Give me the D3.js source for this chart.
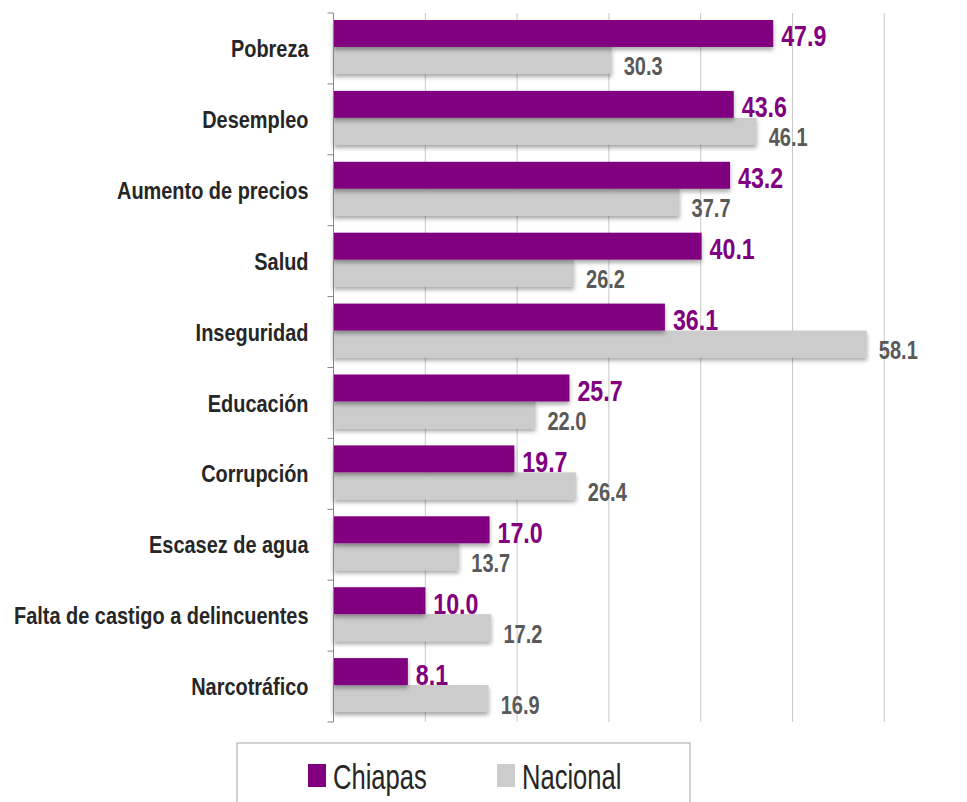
<!DOCTYPE html>
<html>
<head>
<meta charset="utf-8">
<script src="https://cdn.jsdelivr.net/npm/d3@7"></script>
<style>
  body { margin: 0; background: #fff; }
  svg { display: block; font-family: "Liberation Sans", Arial, sans-serif; }
</style>
</head>
<body>
<div class="canvas"></div>
<script>
// data
const categories = ['Pobreza', 'Desempleo', 'Aumento de precios', 'Salud', 'Inseguridad',
  'Educación', 'Corrupción', 'Escasez de agua', 'Falta de castigo a delincuentes', 'Narcotráfico']
const chiapas = [47.9, 43.6, 43.2, 40.1, 36.1, 25.7, 19.7, 17.0, 10.0, 8.1]
const nacional = [30.3, 46.1, 37.7, 26.2, 58.1, 22.0, 26.4, 13.7, 17.2, 16.9]
const seriesNames = ['Chiapas', 'Nacional']
const xTicks = [0, 10, 20, 30, 40, 50, 60, 70]

let width = 967,
    height = 802,
    plotLeft = 333.5,
    plotTop = 13,
    plotBottom = 722

const purple = '#800080',
      grey = '#cccccc'

// squeeze text horizontally (the original uses a condensed face)
function condense(sel, k) {
  sel.each(function () {
    let w = this.getComputedTextLength()
    this.setAttribute('textLength', w * k)
    this.setAttribute('lengthAdjust', 'spacingAndGlyphs')
  })
}

let svg = d3.select('.canvas').append('svg')
  .attr('width', width)
  .attr('height', height)

let defs = svg.append('defs')
defs.append('filter').attr('id', 'shadow')
  .attr('x', '-5%').attr('y', '-30%').attr('width', '110%').attr('height', '180%')
  .append('feDropShadow')
  .attr('dx', 0).attr('dy', 3).attr('stdDeviation', 2)
  .attr('flood-color', '#000').attr('flood-opacity', 0.35)

let x = d3.scaleLinear().domain([0, 70]).range([plotLeft, plotLeft + 70 * 9.18])
let y = d3.scaleBand().domain(categories).range([plotTop, plotBottom])
let inner = d3.scaleBand().domain(seriesNames).range([7, y.bandwidth() - 10]).padding(0)

// gridlines
svg.append('g').selectAll('line')
  .data(xTicks.slice(1))
  .enter().append('line')
  .attr('x1', d => x(d)).attr('x2', d => x(d))
  .attr('y1', plotTop).attr('y2', plotBottom)
  .attr('stroke', '#c8c8c8').attr('stroke-width', 1)

let rows = categories.map((c, i) => ({ cat: c, vals: [chiapas[i], nacional[i]] }))

let g = svg.append('g').selectAll('g')
  .data(rows)
  .enter().append('g')
  .attr('transform', d => `translate(0, ${y(d.cat)})`)

// nacional first so chiapas sits on top
g.append('rect')
  .attr('x', x(0))
  .attr('y', inner('Nacional'))
  .attr('width', d => x(d.vals[1]) - x(0))
  .attr('height', inner.bandwidth())
  .attr('fill', grey)
  .attr('filter', 'url(#shadow)')
g.append('rect')
  .attr('x', x(0))
  .attr('y', inner('Chiapas'))
  .attr('width', d => x(d.vals[0]) - x(0))
  .attr('height', inner.bandwidth())
  .attr('fill', purple)
  .attr('filter', 'url(#shadow)')

// value labels
g.append('text')
  .text(d => d.vals[0].toFixed(1))
  .attr('x', d => x(d.vals[0]) + 8)
  .attr('y', inner('Chiapas') + inner.bandwidth() / 2 + 3)
  .attr('dominant-baseline', 'central')
  .attr('font-size', 29).attr('font-weight', 'bold')
  .attr('fill', purple)
  .call(condense, 0.8)
g.append('text')
  .text(d => d.vals[1].toFixed(1))
  .attr('x', d => x(d.vals[1]) + 12)
  .attr('y', inner('Nacional') + inner.bandwidth() / 2 + 6)
  .attr('dominant-baseline', 'central')
  .attr('font-size', 25).attr('font-weight', 'bold')
  .attr('fill', '#595959')
  .call(condense, 0.8)

// y axis
let yAxis = svg.append('g')
  .attr('transform', `translate(${plotLeft}, 0)`)
  .call(d3.axisLeft(y).tickSize(0).tickPadding(25))
yAxis.select('.domain').remove()
yAxis.selectAll('text')
  .attr('font-size', 24).attr('font-weight', 'bold')
  .attr('fill', '#262626')
  .attr('font-family', '"Liberation Sans", Arial, sans-serif')
  .attr('dy', '0.36em')
  .call(condense, 0.83)

// axis line with ticks at band edges
let edges = categories.map(c => y(c)).concat([plotBottom])
svg.append('line')
  .attr('x1', plotLeft).attr('x2', plotLeft).attr('y1', plotTop).attr('y2', plotBottom)
  .attr('stroke', '#868686')
svg.append('g').selectAll('line')
  .data(edges)
  .enter().append('line')
  .attr('x1', plotLeft - 6).attr('x2', plotLeft)
  .attr('y1', d => d).attr('y2', d => d)
  .attr('stroke', '#868686')

// legend
let legend = svg.append('g')
legend.append('rect')
  .attr('x', 237).attr('y', 743).attr('width', 453).attr('height', 80)
  .attr('fill', '#fff').attr('stroke', '#a6a6a6')
let legendX = [308, 497]
seriesNames.forEach((s, i) => {
  legend.append('rect')
    .attr('x', legendX[i]).attr('y', 764).attr('width', 18).attr('height', 23)
    .attr('fill', i === 0 ? purple : grey)
  legend.append('text')
    .text(s)
    .attr('x', legendX[i] + 25).attr('y', 776)
    .attr('dominant-baseline', 'central')
    .attr('font-size', 35)
    .attr('fill', '#262626')
    .call(condense, 0.73)
})
</script>
</body>
</html>
